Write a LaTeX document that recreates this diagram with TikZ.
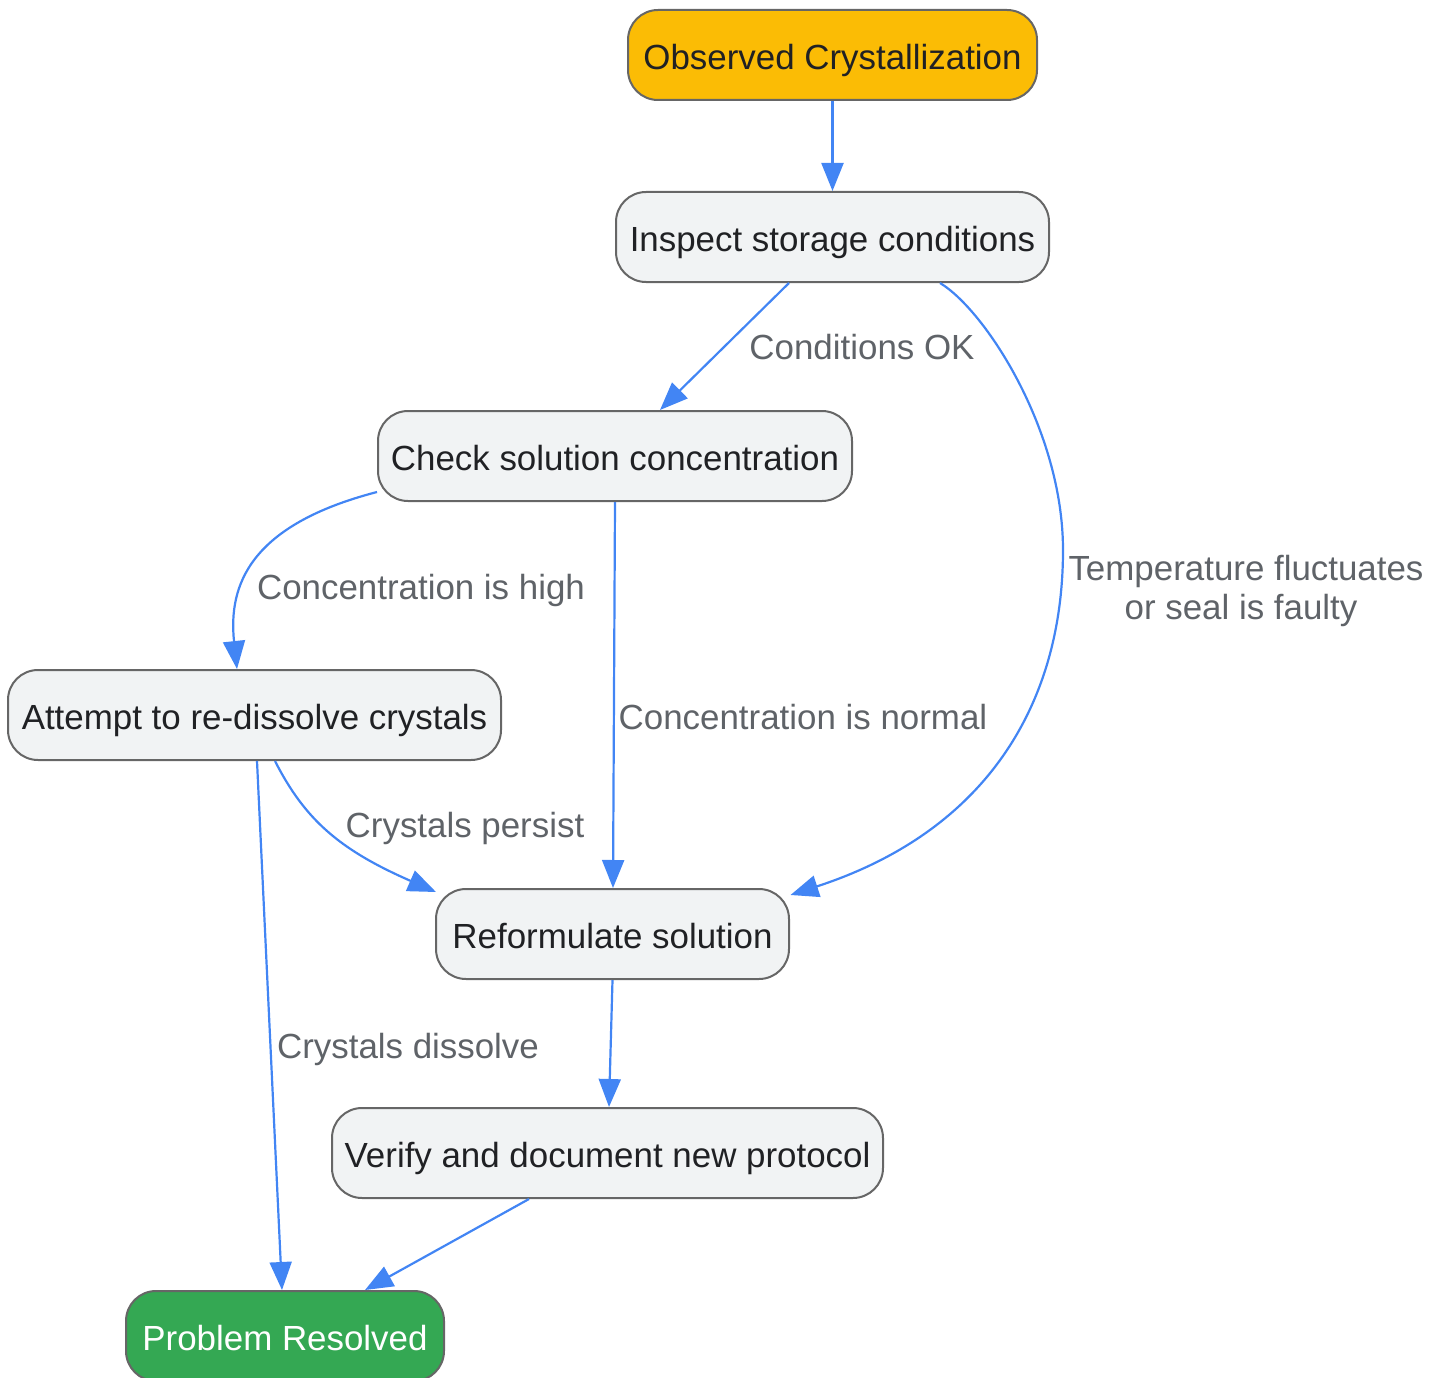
\documentclass[tikz,border=0pt]{standalone}
\usepackage{fontspec}
\setmainfont{Liberation Sans}
\usetikzlibrary{arrows.meta}
\definecolor{edgeblue}{HTML}{4285F4}
\definecolor{boxgray}{HTML}{F1F3F4}
\definecolor{bordergray}{HTML}{666666}
\definecolor{labelgray}{HTML}{5F6368}
\definecolor{textdark}{HTML}{202124}
\definecolor{startyellow}{HTML}{FBBC05}
\definecolor{endgreen}{HTML}{34A853}
\begin{document}
\begin{tikzpicture}[x=1pt,y=-1pt,
  every node/.style={font=\fontsize{34.9}{38.3}\selectfont},
  box/.style={draw=bordergray, line width=2pt, fill=boxgray, rounded corners=30pt,
    minimum height=90pt, inner sep=0pt, text=textdark, anchor=center,
    text height=31pt, text depth=2pt},
  lbl/.style={text=labelgray, inner sep=0pt, text height=25pt, text depth=7.5pt},
  lbltwo/.style={text=labelgray, inner sep=0pt, align=center},
  conn/.style={draw=edgeblue, line width=2.2pt, -{Triangle[length=28pt,width=22pt]}}]
\useasboundingbox (0,0) rectangle (1444,1378);
\node[box, fill=startyellow, minimum width=409pt] (n1) at (832.5,55) {Observed Crystallization};
\node[box, minimum width=433pt] (n2) at (832.5,237) {Inspect storage conditions};
\node[box, minimum width=474pt] (n3) at (615,456) {Check solution concentration};
\node[box, minimum width=493pt] (n4) at (254.5,715) {Attempt to re-dissolve crystals};
\node[box, minimum width=353pt] (n5) at (612.5,934) {Reformulate solution};
\node[box, minimum width=551pt] (n6) at (607.5,1153) {Verify and document new protocol};
\node[box, fill=endgreen, text=white, minimum width=318pt] (n7) at (285,1336) {Problem Resolved};
% connectors
\draw[conn] (n1.south) -- (n2.north);
\draw[conn] ([xshift=-43.5pt]n2.south) -- ([xshift=45pt]n3.north);
\draw[conn] ([xshift=107.5pt]n2.south) .. controls (985,310) and (1063,430) .. (1063,550)
   .. controls (1063,700) and (990,830) .. ([xshift=178pt,yshift=-7pt]n5.north);
\draw[conn] ([yshift=-36pt]n3.west) .. controls (250,525) and (228,585) .. ([xshift=-17.5pt]n4.north);
\draw[conn] (n3.south) -- ([xshift=0.5pt]n5.north);
\draw[conn] ([xshift=20.5pt]n4.south) .. controls (305,820) and (340,850) .. ([xshift=-176.5pt,yshift=-4pt]n5.north);
\draw[conn] ([xshift=2.5pt]n4.south) -- ([xshift=-3pt]n7.north);
\draw[conn] (n5.south) -- ([xshift=1.5pt]n6.north);
\draw[conn] ([xshift=-78.5pt]n6.south) -- ([xshift=80pt]n7.north);
% labels
\node[lbl] (l1) at (862,351) {Conditions OK};
\node[lbltwo] (l2) at (1246,591) {Temperature fluctuates\\or seal is faulty\hspace*{10pt}};
\node[lbl] (l3) at (421,590.5) {Concentration is high};
\node[lbl] (l4) at (803,720.5) {Concentration is normal};
\node[lbl] (l5) at (465,829) {Crystals persist};
\node[lbl] (l6) at (408,1049.5) {Crystals dissolve};
\end{tikzpicture}
\end{document}
